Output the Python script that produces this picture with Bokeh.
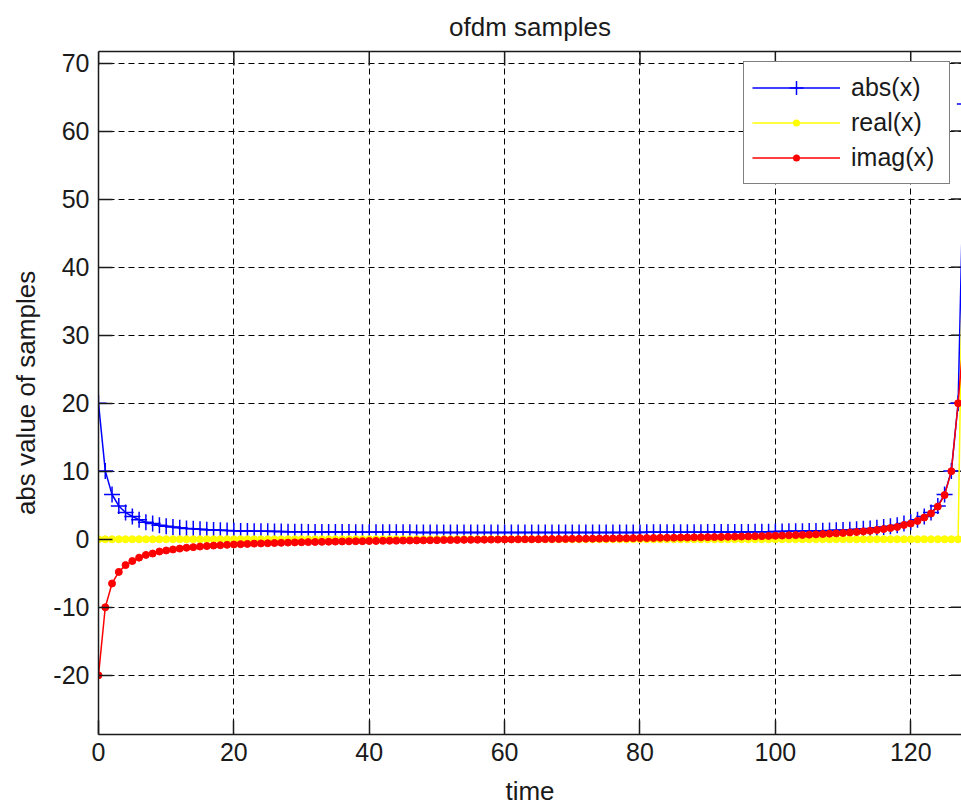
from bokeh.plotting import figure
from bokeh.models import LinearAxis, Legend, LegendItem, FixedTicker, Range1d
from bokeh.embed import file_html
from bokeh.resources import INLINE

# ---- data ----
time = list(range(0, 129))

imag_x = [
    -20.0, -10.0, -6.5, -4.8, -3.8, -3.2, -2.7, -2.3, -2.1, -1.8,
    -1.65, -1.5, -1.37, -1.25, -1.16, -1.07, -1.0, -0.93, -0.87, -0.82,
    -0.77, -0.72, -0.68, -0.64, -0.61, -0.58, -0.55, -0.52, -0.49, -0.46,
    -0.44, -0.42, -0.40, -0.38, -0.36, -0.34, -0.32, -0.31, -0.29, -0.28,
    -0.26, -0.25, -0.23, -0.22, -0.21, -0.19, -0.18, -0.17, -0.16, -0.15,
    -0.14, -0.12, -0.11, -0.10, -0.09, -0.08, -0.07, -0.06, -0.05, -0.04,
    -0.03, -0.02, -0.01, 0.0,
    0.0, 0.01, 0.02, 0.03, 0.04, 0.05, 0.06, 0.07, 0.08, 0.09,
    0.10, 0.11, 0.12, 0.14, 0.15, 0.16, 0.17, 0.18, 0.19, 0.21,
    0.22, 0.23, 0.25, 0.26, 0.28, 0.29, 0.31, 0.32, 0.34, 0.36,
    0.38, 0.40, 0.42, 0.44, 0.46, 0.49, 0.52, 0.55, 0.58, 0.61,
    0.64, 0.68, 0.72, 0.77, 0.82, 0.87, 0.93, 1.0, 1.07, 1.16,
    1.25, 1.37, 1.5, 1.65, 1.8, 2.1, 2.3, 2.7, 3.2, 3.8,
    4.8, 6.5, 10.0, 20.0, 32.0,
]

abs_x = [
    20.0, 10.05, 6.58, 4.9, 3.93, 3.35, 2.88, 2.51, 2.33, 2.06,
    1.93, 1.8, 1.70, 1.60, 1.53, 1.46, 1.41, 1.37, 1.33, 1.29,
    1.26, 1.23, 1.21, 1.19, 1.17, 1.16, 1.14, 1.13, 1.11, 1.10,
    1.09, 1.08, 1.08, 1.07, 1.06, 1.06, 1.05, 1.05, 1.04, 1.04,
    1.03, 1.03, 1.03, 1.02, 1.02, 1.02, 1.02, 1.01, 1.01, 1.01,
    1.01, 1.01, 1.01, 1.0, 1.0, 1.0, 1.0, 1.0, 1.0, 1.0,
    1.0, 1.0, 1.0, 1.0,
    1.0, 1.0, 1.0, 1.0, 1.0, 1.0, 1.0, 1.0, 1.0, 1.0,
    1.0, 1.01, 1.01, 1.01, 1.01, 1.01, 1.01, 1.02, 1.02, 1.02,
    1.02, 1.03, 1.03, 1.03, 1.04, 1.04, 1.05, 1.05, 1.06, 1.06,
    1.07, 1.08, 1.08, 1.09, 1.10, 1.11, 1.13, 1.14, 1.16, 1.17,
    1.19, 1.21, 1.23, 1.26, 1.29, 1.33, 1.37, 1.41, 1.46, 1.53,
    1.60, 1.70, 1.8, 1.93, 2.06, 2.33, 2.51, 2.88, 3.35, 3.93,
    4.9, 6.58, 10.05, 20.0, 64.0,
]

real_x = [0.0] * 128 + [64.0]

x_ticks = [0, 20, 40, 60, 80, 100, 120]
y_ticks = [-20, -10, 0, 10, 20, 30, 40, 50, 60, 70]
y_tick_labels = {t: str(t) for t in y_ticks}   # plain hyphen minus, as in the reference

X_MIN, X_MAX, X_AXIS_END = 0, 127.5, 128
Y_MIN, Y_MAX = -28.7, 71.7

FONT = "Liberation Sans"
TXT = "#1a1a1a"

p = figure(
    width=961, height=810,
    x_range=Range1d(X_MIN, X_MAX), y_range=Range1d(Y_MIN, Y_MAX),
    output_backend="svg", toolbar_location=None,
    title="ofdm samples",
    min_border_left=98, min_border_right=0, min_border_top=0, min_border_bottom=76,
)
p.title.align = "center"
p.title.text_font = FONT
p.title.text_font_size = "26px"
p.title.text_font_style = "normal"
p.title.text_color = TXT
p.title.text_line_height = 0.9
p.title.standoff = 19
p.outline_line_color = None
p.background_fill_color = "white"
p.border_fill_color = "white"

for ax in (p.xaxis[0], p.yaxis[0]):
    ax.major_label_text_font = FONT
    ax.major_label_text_font_size = "25px"
    ax.major_label_text_color = TXT
    ax.axis_label_text_font = FONT
    ax.axis_label_text_font_size = "26px"
    ax.axis_label_text_font_style = "normal"
    ax.axis_label_text_color = TXT
    ax.axis_line_color = TXT
    ax.axis_line_width = 1.5
    ax.major_tick_line_color = TXT
    ax.major_tick_line_width = 1.5
    ax.major_tick_in = 14
    ax.major_tick_out = 0
    ax.minor_tick_line_color = None

p.xaxis.ticker = FixedTicker(ticks=x_ticks)
p.yaxis.ticker = FixedTicker(ticks=y_ticks)
p.yaxis.major_label_overrides = y_tick_labels
p.xaxis.axis_label = "time"
p.yaxis.axis_label = "abs value of samples"
p.xaxis.major_label_standoff = 8
p.xaxis.axis_label_standoff = 12
p.yaxis.major_label_standoff = 9
p.yaxis.axis_label_standoff = 9

# top border of the box (no ticks/labels on the axis itself)
top = LinearAxis(ticker=FixedTicker(ticks=[]), axis_line_color=TXT, axis_line_width=1.5,
                 major_tick_line_color=None, minor_tick_line_color=None)
p.add_layout(top, "above")

for g in (p.xgrid[0], p.ygrid[0]):
    g.grid_line_color = "black"
    g.grid_line_dash = "6 4"
    g.grid_line_width = 1
p.xgrid.ticker = FixedTicker(ticks=x_ticks)
p.ygrid.ticker = FixedTicker(ticks=y_ticks)

# inward tick marks of the box's top and right sides
TICK_Y = 2.05
TICK_X = 2.07
p.segment(x0=x_ticks, y0=[Y_MAX] * len(x_ticks), x1=x_ticks, y1=[Y_MAX - TICK_Y] * len(x_ticks),
          line_color=TXT, line_width=1.5)
p.segment(x0=[X_AXIS_END] * len(y_ticks), y0=y_ticks, x1=[X_AXIS_END - TICK_X] * len(y_ticks),
          y1=y_ticks, line_color=TXT, line_width=1.5)

BLUE, YEL, RED = "#0000ff", "#ffff00", "#ff0000"

l1 = p.line(time, abs_x, line_color=BLUE, line_width=1.5)
m1 = p.scatter(time, abs_x, marker="cross", size=16, line_color=BLUE, line_width=1.5)
l2 = p.line(time, real_x, line_color=YEL, line_width=1.5)
m2 = p.scatter(time, real_x, marker="circle", size=7, line_color=YEL, fill_color=YEL)
l3 = p.line(time, imag_x, line_color=RED, line_width=1.5)
m3 = p.scatter(time, imag_x, marker="circle", size=7, line_color=RED, fill_color=RED)

# legend-only dot glyphs (no visible point in the plot; small filled dot in the legend)
NAN = float("nan")
d2 = p.scatter(x=[NAN], y=[NAN], marker="circle", fill_color=YEL, line_color="white", line_width=7)
d3 = p.scatter(x=[NAN], y=[NAN], marker="circle", fill_color=RED, line_color="white", line_width=7)

legend = Legend(
    items=[
        LegendItem(label="abs(x)", renderers=[l1, m1]),
        LegendItem(label="real(x)", renderers=[d2, l2]),
        LegendItem(label="imag(x)", renderers=[d3, l3]),
    ],
    location=(645, 550),
    padding=8, spacing=0, margin=0,
    glyph_width=88, glyph_height=35, label_height=35, label_width=90,
    label_standoff=11,
    label_text_font=FONT, label_text_font_size="25px", label_text_color=TXT,
    border_line_color="black", border_line_width=1.5,
    background_fill_color="white", background_fill_alpha=1.0,
)
p.add_layout(legend, "center")

open("out.html", "w").write(file_html(p, INLINE))
